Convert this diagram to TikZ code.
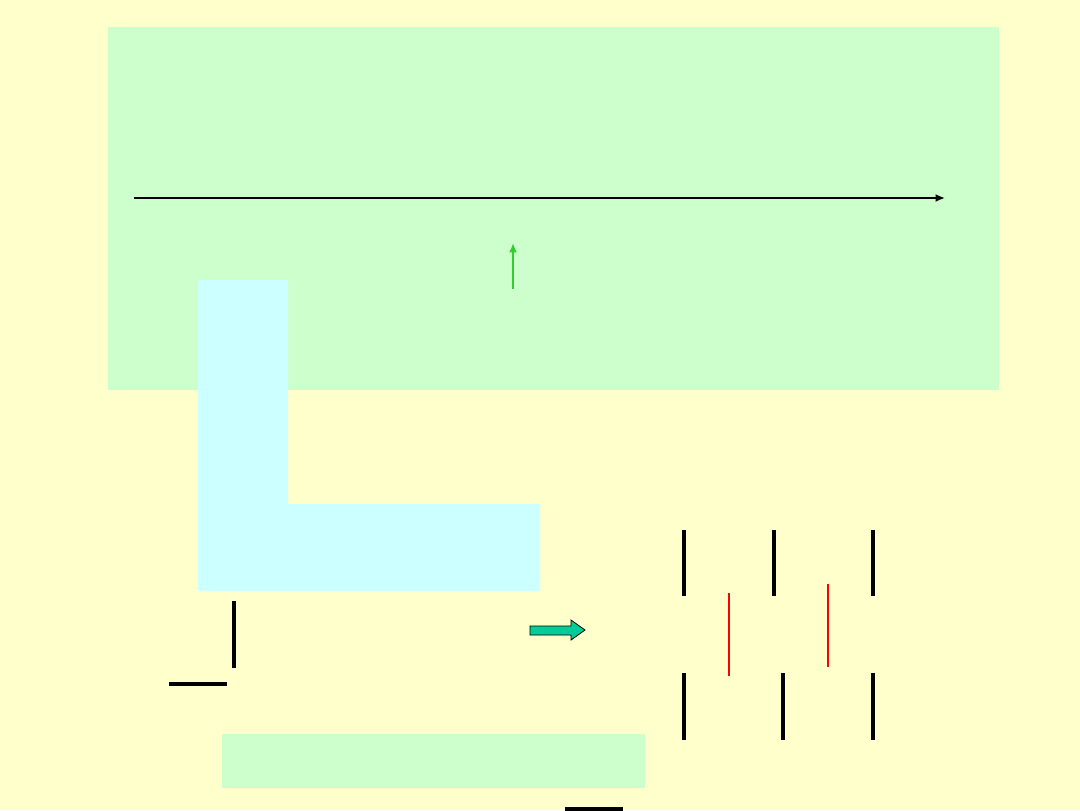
\documentclass[tikz,border=0pt]{standalone}
\usepackage{tikz}
\usetikzlibrary{arrows.meta}
\definecolor{PaleYellow}{RGB}{255,255,204}
\definecolor{PaleGreen}{RGB}{204,255,204}
\definecolor{PaleCyan}{RGB}{204,255,255}
\definecolor{ArrowGreen}{RGB}{51,204,51}
\definecolor{Teal}{RGB}{0,204,153}
\definecolor{BarRed}{RGB}{255,0,0}

\begin{document}
\begin{tikzpicture}[x=0.75pt,y=-0.75pt,
  blackbar/.style={line width=3pt,draw=black},
  redbar/.style={line width=1.5pt,draw=BarRed}]
\useasboundingbox (0,0) rectangle (1080,810);
\fill[PaleYellow] (0,0) rectangle (1080,810);

\fill[PaleGreen] (108,27) rectangle (999,390);
\fill[PaleCyan] (198,280) -- (288,280) -- (288,504) -- (540,504) -- (540,591) -- (198,591) -- cycle;
\fill[PaleGreen] (222,734) rectangle (645,788);

\coordinate (axisL) at (134,198);
\coordinate (axisR) at (945,198);
\draw[-{Latex[length=7pt,width=6pt]}, line width=1.5pt] (axisL) to (axisR);

\coordinate (upS) at (513,289);
\coordinate (upE) at (513,243);
\draw[-{Latex[length=7pt,width=6pt]}, line width=1.5pt, draw=ArrowGreen] (upS) to (upE);

\draw[blackbar] (234,601) -- (234,668);
\draw[blackbar] (169,684) -- (227,684);
\draw[blackbar] (565,809) -- (623,809);

\draw[fill=Teal,draw=black,line width=0.6pt] (530,626) -- (571,626) -- (571,620) -- (585,630) -- (571,640) -- (571,635) -- (530,635) -- cycle;

\draw[blackbar] (684,530) -- (684,596);
\draw[blackbar] (774,530) -- (774,596);
\draw[blackbar] (873,530) -- (873,596);
\draw[redbar] (729,593) -- (729,676);
\draw[redbar] (828,584) -- (828,667);
\draw[blackbar] (684,673) -- (684,740);
\draw[blackbar] (783,673) -- (783,740);
\draw[blackbar] (873,673) -- (873,740);

\end{tikzpicture}
\end{document}
